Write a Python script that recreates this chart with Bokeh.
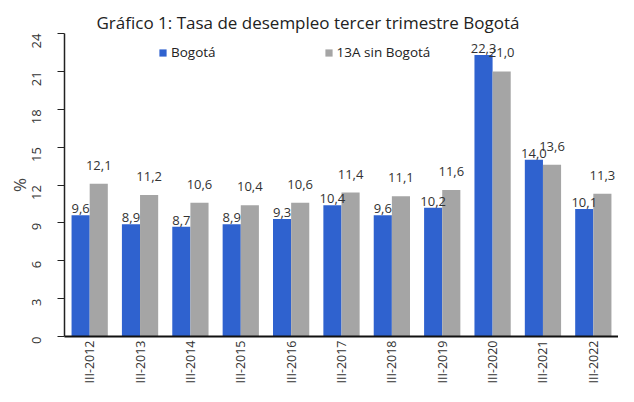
from bokeh.plotting import figure
from bokeh.models import ColumnDataSource, Range1d, FixedTicker, Legend, LegendItem
from bokeh.transform import dodge
from bokeh.core.properties import value
from bokeh.embed import file_html
from bokeh.resources import INLINE
import math

periods = ["III-2012", "III-2013", "III-2014", "III-2015", "III-2016", "III-2017",
           "III-2018", "III-2019", "III-2020", "III-2021", "III-2022"]
bogota = [9.6, 8.9, 8.7, 8.9, 9.3, 10.4, 9.6, 10.2, 22.3, 14.0, 10.1]
resto = [12.1, 11.2, 10.6, 10.4, 10.6, 11.4, 11.1, 11.6, 21.0, 13.6, 11.3]
y_ticks = [0, 3, 6, 9, 12, 15, 18, 21, 24]

def fmt(v):
    return f"{v:.1f}".replace(".", ",")

src = ColumnDataSource(dict(
    x=periods, b=bogota, r=resto,
    bl=[fmt(v) for v in bogota], rl=[fmt(v) for v in resto],
))

FONT = "Open Sans"
p = figure(x_range=periods, width=618, height=386, output_backend="svg",
           toolbar_location=None, min_border_left=64, min_border_right=0,
           min_border_bottom=45, min_border_top=33)
p.title.text = "Gráfico 1: Tasa de desempleo tercer trimestre Bogotá"
p.title.align = "left"
p.title.offset = 32
p.title.text_font = FONT
p.title.text_font_size = "17px"
p.title.text_font_style = "normal"
p.title.text_color = "#222222"
p.title.standoff = 0

p.y_range = Range1d(0, 24)
p.x_range.range_padding = 0.0

rb = p.vbar(x=dodge("x", -0.18, range=p.x_range), top="b", width=0.36, source=src,
            fill_color="#2F62CF", line_color=None)
rr = p.vbar(x=dodge("x", 0.18, range=p.x_range), top="r", width=0.36, source=src,
            fill_color="#A5A5A5", line_color=None)

for col, off, lab, yo in [("b", -0.18, "bl", -2), ("r", 0.18, "rl", -14)]:
    p.text(x=dodge("x", off, range=p.x_range), y=col, text=lab, source=src,
           text_align="center", text_baseline="bottom", y_offset=yo,
           text_font=value(FONT), text_font_size="13px", text_color="#333333")

legend = Legend(items=[LegendItem(label="Bogotá", renderers=[rb]),
                       LegendItem(label="13A sin Bogotá", renderers=[rr])],
                orientation="horizontal", location=(94, 275), spacing=108,
                glyph_width=9, glyph_height=9, label_text_font=FONT,
                label_text_font_size="13.5px", label_standoff=4, label_height=14,
                label_text_color="#222222",
                background_fill_alpha=0, border_line_color=None, padding=0, margin=0)
p.add_layout(legend, "center")

p.xgrid.grid_line_color = None
p.ygrid.grid_line_color = None
p.outline_line_color = None

p.yaxis.ticker = FixedTicker(ticks=y_ticks)
p.yaxis.major_label_orientation = math.pi / 2
p.yaxis.axis_label = "%"
p.yaxis.axis_label_text_font = FONT
p.yaxis.axis_label_text_font_size = "17px"
p.yaxis.axis_label_text_font_style = "normal"
p.yaxis.axis_label_standoff = -6
p.yaxis.major_label_standoff = 21
p.yaxis.major_label_text_font = FONT
p.yaxis.major_label_text_font_size = "13px"
p.yaxis.major_label_text_color = "#333333"
p.yaxis.minor_tick_line_color = None
p.yaxis.major_tick_out = 7
p.yaxis.major_tick_in = 0
p.yaxis.axis_line_color = "#222222"
p.yaxis.axis_line_width = 1.5
p.yaxis.major_tick_line_color = "#222222"

p.xaxis.major_label_orientation = math.pi / 2
p.xaxis.major_label_standoff = 4
p.xaxis.major_label_text_font = FONT
p.xaxis.major_label_text_font_size = "12.5px"
p.xaxis.major_label_text_color = "#333333"
p.xaxis.major_tick_line_color = None
p.xaxis.major_tick_out = 0
p.xaxis.axis_line_color = "#111111"
p.xaxis.axis_line_width = 2

open("out.html", "w").write(file_html(p, INLINE))
